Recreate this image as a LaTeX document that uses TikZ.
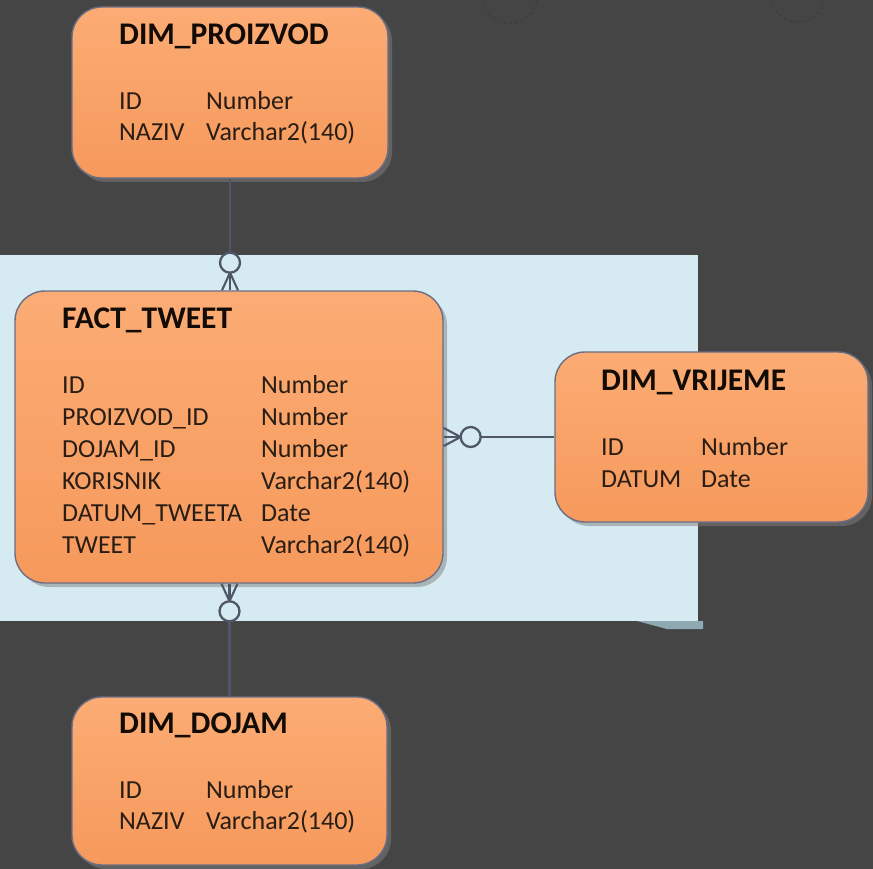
\documentclass[tikz,border=0pt]{standalone}
\usepackage{fontspec}
\setmainfont{Carlito}
\usetikzlibrary{positioning, shadows, calc}

\definecolor{bgdark}{HTML}{454545}
\definecolor{arcfaint}{HTML}{3D3D3D}
\definecolor{zone}{HTML}{D6EBF1}
\definecolor{zonetab}{HTML}{8FA9B2}
\definecolor{tbltop}{HTML}{FBAC74}
\definecolor{tblbot}{HTML}{F6995C}
\definecolor{tbledge}{HTML}{6B6E84}
\definecolor{relline}{HTML}{4F5668}
\definecolor{titletext}{HTML}{120B06}
\definecolor{fieldtext}{HTML}{291D14}

\begin{document}
\begin{tikzpicture}[x=1pt, y=-1pt,
  tbl/.style={draw=tbledge, line width=1.4pt, rounded corners=30pt,
    top color=tbltop, bottom color=tblbot,
    drop shadow={shadow xshift=4pt, shadow yshift=-4pt, opacity=.5}},
  ttl/.style={anchor=base west, inner sep=0pt, text=titletext,
    font=\fontsize{31.5}{36}\selectfont\bfseries},
  fld/.style={anchor=base west, inner sep=0pt, text=fieldtext,
    font=\fontsize{26}{30}\selectfont},
  rel/.style={draw=relline, line width=2.6pt},
  foot/.style={draw=relline, line width=2.1pt},
  ring/.style={draw=relline, line width=2.3pt, fill=zone}]

% Background and page
\fill[bgdark] (0,0) rectangle (873,869);
\useasboundingbox (0,0) rectangle (873,869);
\clip (0,0) rectangle (873,869);
\draw[arcfaint, dashed, line width=1.2pt] (510,-5) circle (28);
\draw[arcfaint, dashed, line width=1.2pt] (798,-5) circle (27);

% Fact zone
\fill[zone] (0,255) rectangle (698,621);
\fill[zonetab] (637,621) -- (703,621) -- (703,629) -- (667,629) -- cycle;

% Tables
\node[tbl, minimum width=316pt, minimum height=171pt] (proizvod) at (230,92.5) {};
\node[tbl, minimum width=428pt, minimum height=292pt] (fact) at (229,437) {};
\node[tbl, minimum width=313pt, minimum height=170pt] (vrijeme) at (711.5,437) {};
\node[tbl, minimum width=315pt, minimum height=168pt] (dojam) at (229.5,781) {};

% DIM_PROIZVOD
\node[ttl] (proizvod-t) at (119,45) {DIM\_PROIZVOD};
\foreach \name/\type [count=\i] in {ID/Number, NAZIV/Varchar2(140)}{
  \node[fld] (proizvod-n\i) at (119,{110+31*(\i-1)}) {\name};
  \node[fld] (proizvod-d\i) at (206,{110+31*(\i-1)}) {\type};
}

% FACT_TWEET
\node[ttl] (fact-t) at (62,328) {FACT\_TWEET};
\foreach \name/\type [count=\i] in {ID/Number, PROIZVOD\_ID/Number, DOJAM\_ID/Number,
    KORISNIK/Varchar2(140), DATUM\_TWEETA/Date, TWEET/Varchar2(140)}{
  \node[fld] (fact-n\i) at (62,{393+32*(\i-1)}) {\name};
  \node[fld] (fact-d\i) at (261,{393+32*(\i-1)}) {\type};
}

% DIM_VRIJEME
\node[ttl] (vrijeme-t) at (601,390) {DIM\_VRIJEME};
\foreach \name/\type [count=\i] in {ID/Number, DATUM/Date}{
  \node[fld] (vrijeme-n\i) at (601,{455+32*(\i-1)}) {\name};
  \node[fld] (vrijeme-d\i) at (701,{455+32*(\i-1)}) {\type};
}

% DIM_DOJAM
\node[ttl] (dojam-t) at (119,733) {DIM\_DOJAM};
\foreach \name/\type [count=\i] in {ID/Number, NAZIV/Varchar2(140)}{
  \node[fld] (dojam-n\i) at (119,{798+31*(\i-1)}) {\name};
  \node[fld] (dojam-d\i) at (206,{798+31*(\i-1)}) {\type};
}

% Relations (zero or many on the fact side)
\coordinate (ringP) at ($(proizvod.south)+(0,84)$);
\coordinate (ringV) at ($(fact.east)+(27,0)$);
\coordinate (ringD) at ($(dojam.north)+(0,-85)$);

\draw[rel] (proizvod.south) -- ($(ringP)+(0,-10)$);
\draw[ring] (ringP) circle (10);
\foreach \dx in {-8,0,8}{
  \draw[foot] ($(ringP)+(0,10)$) -- ($(ringP |- fact.north)+(\dx,0)$);
}

\draw[rel] ($(ringV)+(10,0)$) -- (vrijeme.west);
\draw[ring] (ringV) circle (10);
\foreach \dy in {-9,0,9}{
  \draw[foot] ($(ringV)+(-10,0)$) -- ($(fact.east)+(0,\dy)$);
}

\draw[rel] ($(ringD)+(0,10)$) -- (dojam.north);
\draw[ring] (ringD) circle (10);
\foreach \dx in {-8,0,8}{
  \draw[foot] ($(ringD)+(0,-10)$) -- ($(ringD |- fact.south)+(\dx,0)$);
}
\end{tikzpicture}
\end{document}
